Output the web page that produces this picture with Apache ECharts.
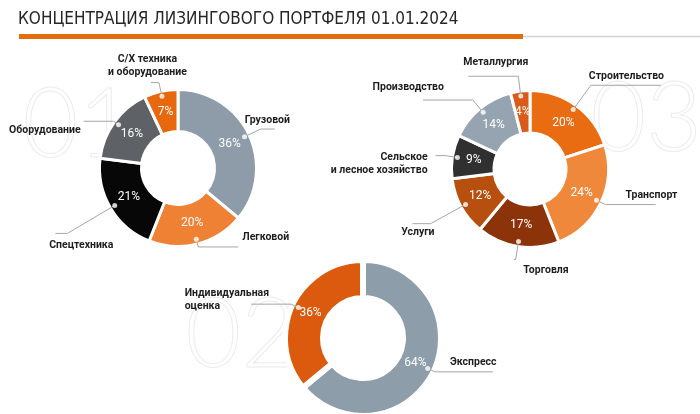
<!DOCTYPE html>
<html><head><meta charset="utf-8">
<script src="https://cdn.jsdelivr.net/npm/echarts@6/dist/echarts.min.js"></script>
<style>html,body{margin:0;padding:0;background:#fff}#c{width:700px;height:414px}</style>
</head><body><div id="c"></div>
<script>
// ---- data ----
const titleText = 'КОНЦЕНТРАЦИЯ ЛИЗИНГОВОГО ПОРТФЕЛЯ 01.01.2024';
const vehicleNames = ['Грузовой', 'Легковой', 'Спецтехника', 'Оборудование', 'С/Х техника\nи оборудование'];
const vehicleShares = [36, 20, 21, 16, 7];
const industryNames = ['Строительство', 'Транспорт', 'Торговля', 'Услуги', 'Сельское\nи лесное хозяйство', 'Производство', 'Металлургия'];
const industryShares = [20, 24, 17, 12, 9, 14, 4];
const assessmentNames = ['Экспресс', 'Индивидуальная\nоценка'];
const assessmentShares = [64, 36];

// ---- styles ----
const vehicleColors = ['#8D9CA8', '#EE8134', '#070707', '#5E6266', '#E8680E'];
const industryColors = ['#E96B12', '#F0883C', '#8C3309', '#B74F0F', '#303030', '#95A4B0', '#DA5A19'];
const assessmentColors = ['#8D9DAA', '#DC5A0D'];
// leader line lengths, label distance (negative = label slides back over the line), padding, line alignment
const vehicleLabelCfg = [
  {L: 18, L2: 14, d: -30, pad: [0, 0, 18, 0]},
  {L: 8, L2: 40, d: 4, pad: [0, 0, 20, 0]},
  {L: 55, L2: 12, d: -58, pad: [24, 0, 0, 0]},
  {L: 6, L2: 30, d: 3, pad: [18, 0, 0, 0]},
  {L: 14, L2: 8, d: -36, pad: [0, 0, 33, 0], al: 'center'}
];
const industryLabelCfg = [
  {L: 30, L2: 70, d: -72, pad: [0, 0, 18, 0]},
  {L: 10, L2: 50, d: -30, pad: [0, 0, 18, 0]},
  {L: 18, L2: 2, d: -55, pad: [22, 0, 0, 0]},
  {L: 40, L2: 18, d: -22, pad: [18, 0, 0, 0]},
  {L: 12, L2: 10, d: 8, pad: [16, 0, 0, 0], al: 'right'},
  {L: 16, L2: 50, d: -21, pad: [0, 0, 26, 0]},
  {L: 20, L2: 50, d: -60, pad: [0, 0, 28, 0]}
];
const assessmentLabelCfg = [
  {L: 8, L2: 58, d: -43, pad: [0, 0, 18, 0]},
  {L: 8, L2: 40, d: -18, pad: [0, 0, 9, 0], al: 'left'}
];
const C1 = [178, 168], C3 = [530, 169], C2 = [363, 338];
const labelFont = 'Roboto, "Noto Sans", sans-serif';
const nameStyle = {fontSize: 10.5, fontWeight: 'bold', fontFamily: labelFont, color: '#1e1e1e', lineHeight: 13};

function mids(vals) {
  const tot = vals.reduce((a, b) => a + b, 0);
  let acc = 0;
  return vals.map(v => { const m = (acc + v / 2) / tot * 100; acc += v; return m; });
}
function ringSeries(names, vals, colors, center, radius, border) {
  return {
    type: 'pie', center: center, radius: radius, startAngle: 90, clockwise: true,
    avoidLabelOverlap: false, silent: true, z: 2,
    itemStyle: {borderColor: '#fff', borderWidth: border},
    label: {show: false}, labelLine: {show: false},
    data: names.map((n, i) => ({name: n, value: vals[i], itemStyle: {color: colors[i]}}))
  };
}
function pctSeries(names, vals, center, radius) {
  return {
    type: 'pie', center: center, radius: radius, startAngle: 90, clockwise: true,
    avoidLabelOverlap: false, silent: true, z: 4, labelLayout: {hideOverlap: false},
    itemStyle: {color: 'rgba(0,0,0,0)', borderWidth: 0},
    label: {show: true, position: 'inside', formatter: '{c}%', color: '#fff', fontSize: 12, fontFamily: labelFont},
    labelLine: {show: false},
    data: names.map((n, i) => ({name: n, value: vals[i]}))
  };
}
function labelSeries(names, vals, center, r, cfg) {
  return {
    type: 'pie', center: center, radius: [0, r], startAngle: 90, clockwise: true,
    avoidLabelOverlap: false, silent: true, z: 3, labelLayout: {hideOverlap: false},
    itemStyle: {color: 'rgba(0,0,0,0)', borderWidth: 0},
    label: Object.assign({show: true, position: 'outside'}, nameStyle),
    labelLine: {show: true, lineStyle: {color: '#a6a6a6', width: 1}},
    data: names.map((n, i) => {
      const c = cfg[i];
      return {
        name: n, value: vals[i],
        label: {
          distanceToLabelLine: c.d, padding: c.pad,
          formatter: n.split('\n').map(s => '{t|' + s + '}').join('\n'),
          rich: {t: Object.assign({align: c.al || undefined}, nameStyle)}
        },
        labelLine: {length: c.L, length2: c.L2}
      };
    })
  };
}
function dotSeries(vals, idx) {
  return {
    type: 'scatter', coordinateSystem: 'polar', polarIndex: idx, symbolSize: 5, silent: true, z: 6,
    itemStyle: {color: '#fff'},
    data: mids(vals).map(m => [1, m])
  };
}
const hiddenAxis = {show: false, axisLine: {show: false}, axisTick: {show: false}, axisLabel: {show: false}, splitLine: {show: false}};
const wm = {fontSize: 96, fontFamily: 'Lato, Roboto, sans-serif', fontWeight: 300, fill: 'rgba(0,0,0,0)', stroke: '#ececec', lineWidth: 1};

const chart = echarts.init(document.getElementById('c'));
chart.setOption({
  animation: false,
  backgroundColor: '#fff',
  title: {text: titleText, left: 13, top: 6, textStyle: {fontSize: 17, fontWeight: 'normal', color: '#262626', fontFamily: '"Liberation Sans Narrow", "DejaVu Sans Condensed", sans-serif'}},
  graphic: [
    {type: 'text', left: 22, top: 78, z: 0, silent: true, style: Object.assign({text: '01'}, wm)},
    {type: 'text', left: 590, top: 72, z: 0, silent: true, style: Object.assign({text: '03'}, wm)},
    {type: 'text', left: 185, top: 288, z: 0, silent: true, style: Object.assign({text: '02'}, wm)},
    {type: 'rect', left: 19, top: 34, z: 1, silent: true, shape: {width: 504, height: 5}, style: {fill: '#E46C0A'}},
    {type: 'rect', left: 523, top: 35.8, z: 1, silent: true, shape: {width: 177, height: 1.5}, style: {fill: '#D3D3D3'}}
  ],
  polar: [{center: C1, radius: 73.5}, {center: C3, radius: 73.5}, {center: C2, radius: 71.5}],
  angleAxis: [0, 1, 2].map(i => Object.assign({polarIndex: i, type: 'value', min: 0, max: 100, startAngle: 90, clockwise: true}, hiddenAxis)),
  radiusAxis: [0, 1, 2].map(i => Object.assign({polarIndex: i, type: 'value', min: 0, max: 1}, hiddenAxis)),
  series: [
    ringSeries(vehicleNames, vehicleShares, vehicleColors, C1, [36.5, 78.5], 3),
    labelSeries(vehicleNames, vehicleShares, C1, 73.5, vehicleLabelCfg),
    pctSeries(vehicleNames, vehicleShares, C1, [31, 77]),
    dotSeries(vehicleShares, 0),
    ringSeries(industryNames, industryShares, industryColors, C3, [36, 78.5], 3),
    labelSeries(industryNames, industryShares, C3, 73.5, industryLabelCfg),
    pctSeries(industryNames, industryShares, C3, [31, 77]),
    dotSeries(industryShares, 1),
    ringSeries(assessmentNames, assessmentShares, assessmentColors, C2, [40, 78], 6),
    labelSeries(assessmentNames, assessmentShares, C2, 71.5, assessmentLabelCfg),
    pctSeries(assessmentNames, assessmentShares, C2, [35, 75]),
    dotSeries(assessmentShares, 2)
  ]
});
</script>
</body></html>
